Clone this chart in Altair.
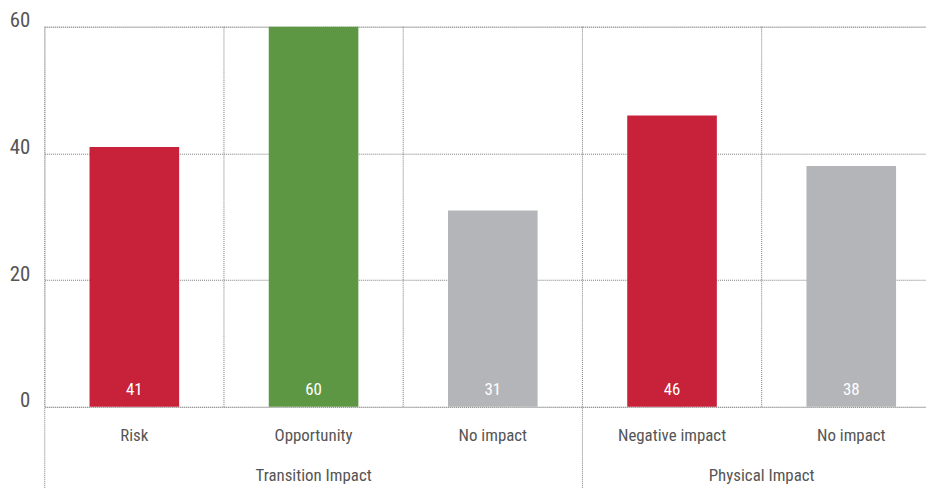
import altair as alt
import pandas as pd

categories = ["Risk", "Opportunity", "No impact", "Negative impact", "No impact"]
values = [41, 60, 31, 46, 38]
colors = ["#C8223A", "#5E9743", "#B4B5B8", "#C8223A", "#B4B5B8"]
groups = ["Transition Impact", "Physical Impact"]
group_sizes = [3, 2]
y_ticks = [0, 20, 40, 60]

FONT = "Roboto Condensed, DejaVu Sans Condensed, sans-serif"
TXT = "#555555"
GRID = "#7a7a7a"
RANGE = [0, 903]

df = pd.DataFrame({
    "key": [str(i) for i in range(len(categories))],
    "label": categories,
    "value": values,
    "color": colors,
})

# group spans
starts, s = [], 0
for n in group_sizes:
    starts.append(s)
    s += n
n_cat = len(categories)
gdf = pd.DataFrame({
    "group": groups,
    "center": [st + n / 2 for st, n in zip(starts, group_sizes)],
})
long_b = sorted(set(starts + [n_cat]))
short_b = [i for i in range(n_cat + 1) if i not in long_b]
long_df = pd.DataFrame({"pos": long_b})
short_df = pd.DataFrame({"pos": short_b})

label_expr = "[" + ",".join(f"'{c}'" for c in categories) + "][toNumber(datum.value)]"

band_scale = alt.Scale(range=RANGE, paddingInner=0.5, paddingOuter=0.25)
x_band = alt.X(
    "key:N", sort=None, scale=band_scale,
    axis=alt.Axis(title=None, labelExpr=label_expr, domain=False, ticks=False,
                  labelPadding=21, labelFontSize=17, labelColor=TXT, labelAngle=0,
                  labelFont=FONT, grid=False),
)
y_q = alt.Y(
    "value:Q", scale=alt.Scale(domain=[0, 60]),
    axis=alt.Axis(values=y_ticks, title=None, domain=False, ticks=False,
                  labelFontSize=21, labelColor=TXT, labelPadding=15,
                  labelBaseline="alphabetic", labelFont=FONT,
                  grid=True, gridDash=[1, 1], gridColor=GRID, gridWidth=1),
)

base = alt.Chart(df)
bars = base.mark_bar().encode(x=x_band, y=y_q, color=alt.Color("color:N", scale=None))
vals = base.mark_text(baseline="alphabetic", dy=-12, color="white", fontSize=17, font=FONT).encode(
    x=x_band, y=alt.datum(0), text="value:Q"
)
bar_layer = alt.layer(bars, vals)

xq = alt.X("pos:Q", scale=alt.Scale(domain=[0, n_cat], range=RANGE), axis=None)
short_rules = alt.Chart(short_df).mark_rule(strokeDash=[1, 1], color=GRID, strokeWidth=1).encode(
    x=xq, y=alt.value(0), y2=alt.value(383)
)
long_rules = alt.Chart(long_df).mark_rule(strokeDash=[1, 1], color=GRID, strokeWidth=1).encode(
    x=xq, y=alt.value(0), y2=alt.value(475)
)
glabels = alt.Chart(gdf).mark_text(fontSize=17, color=TXT, font=FONT, baseline="middle").encode(
    x=alt.X("center:Q", scale=alt.Scale(domain=[0, n_cat], range=RANGE), axis=None),
    y=alt.value(453), text="group:N"
)
rule_layer = alt.layer(short_rules, long_rules, glabels)

chart = alt.layer(rule_layer, bar_layer).resolve_scale(
    x="independent"
).properties(
    width=888, height=383,
    autosize=alt.AutoSizeParams(type="none"),
    padding={"left": 37, "top": 17, "right": 0, "bottom": 80},
).configure_view(stroke=None).configure(font=FONT)

chart.save("out.html", embed_options={"renderer": "svg", "actions": False})
